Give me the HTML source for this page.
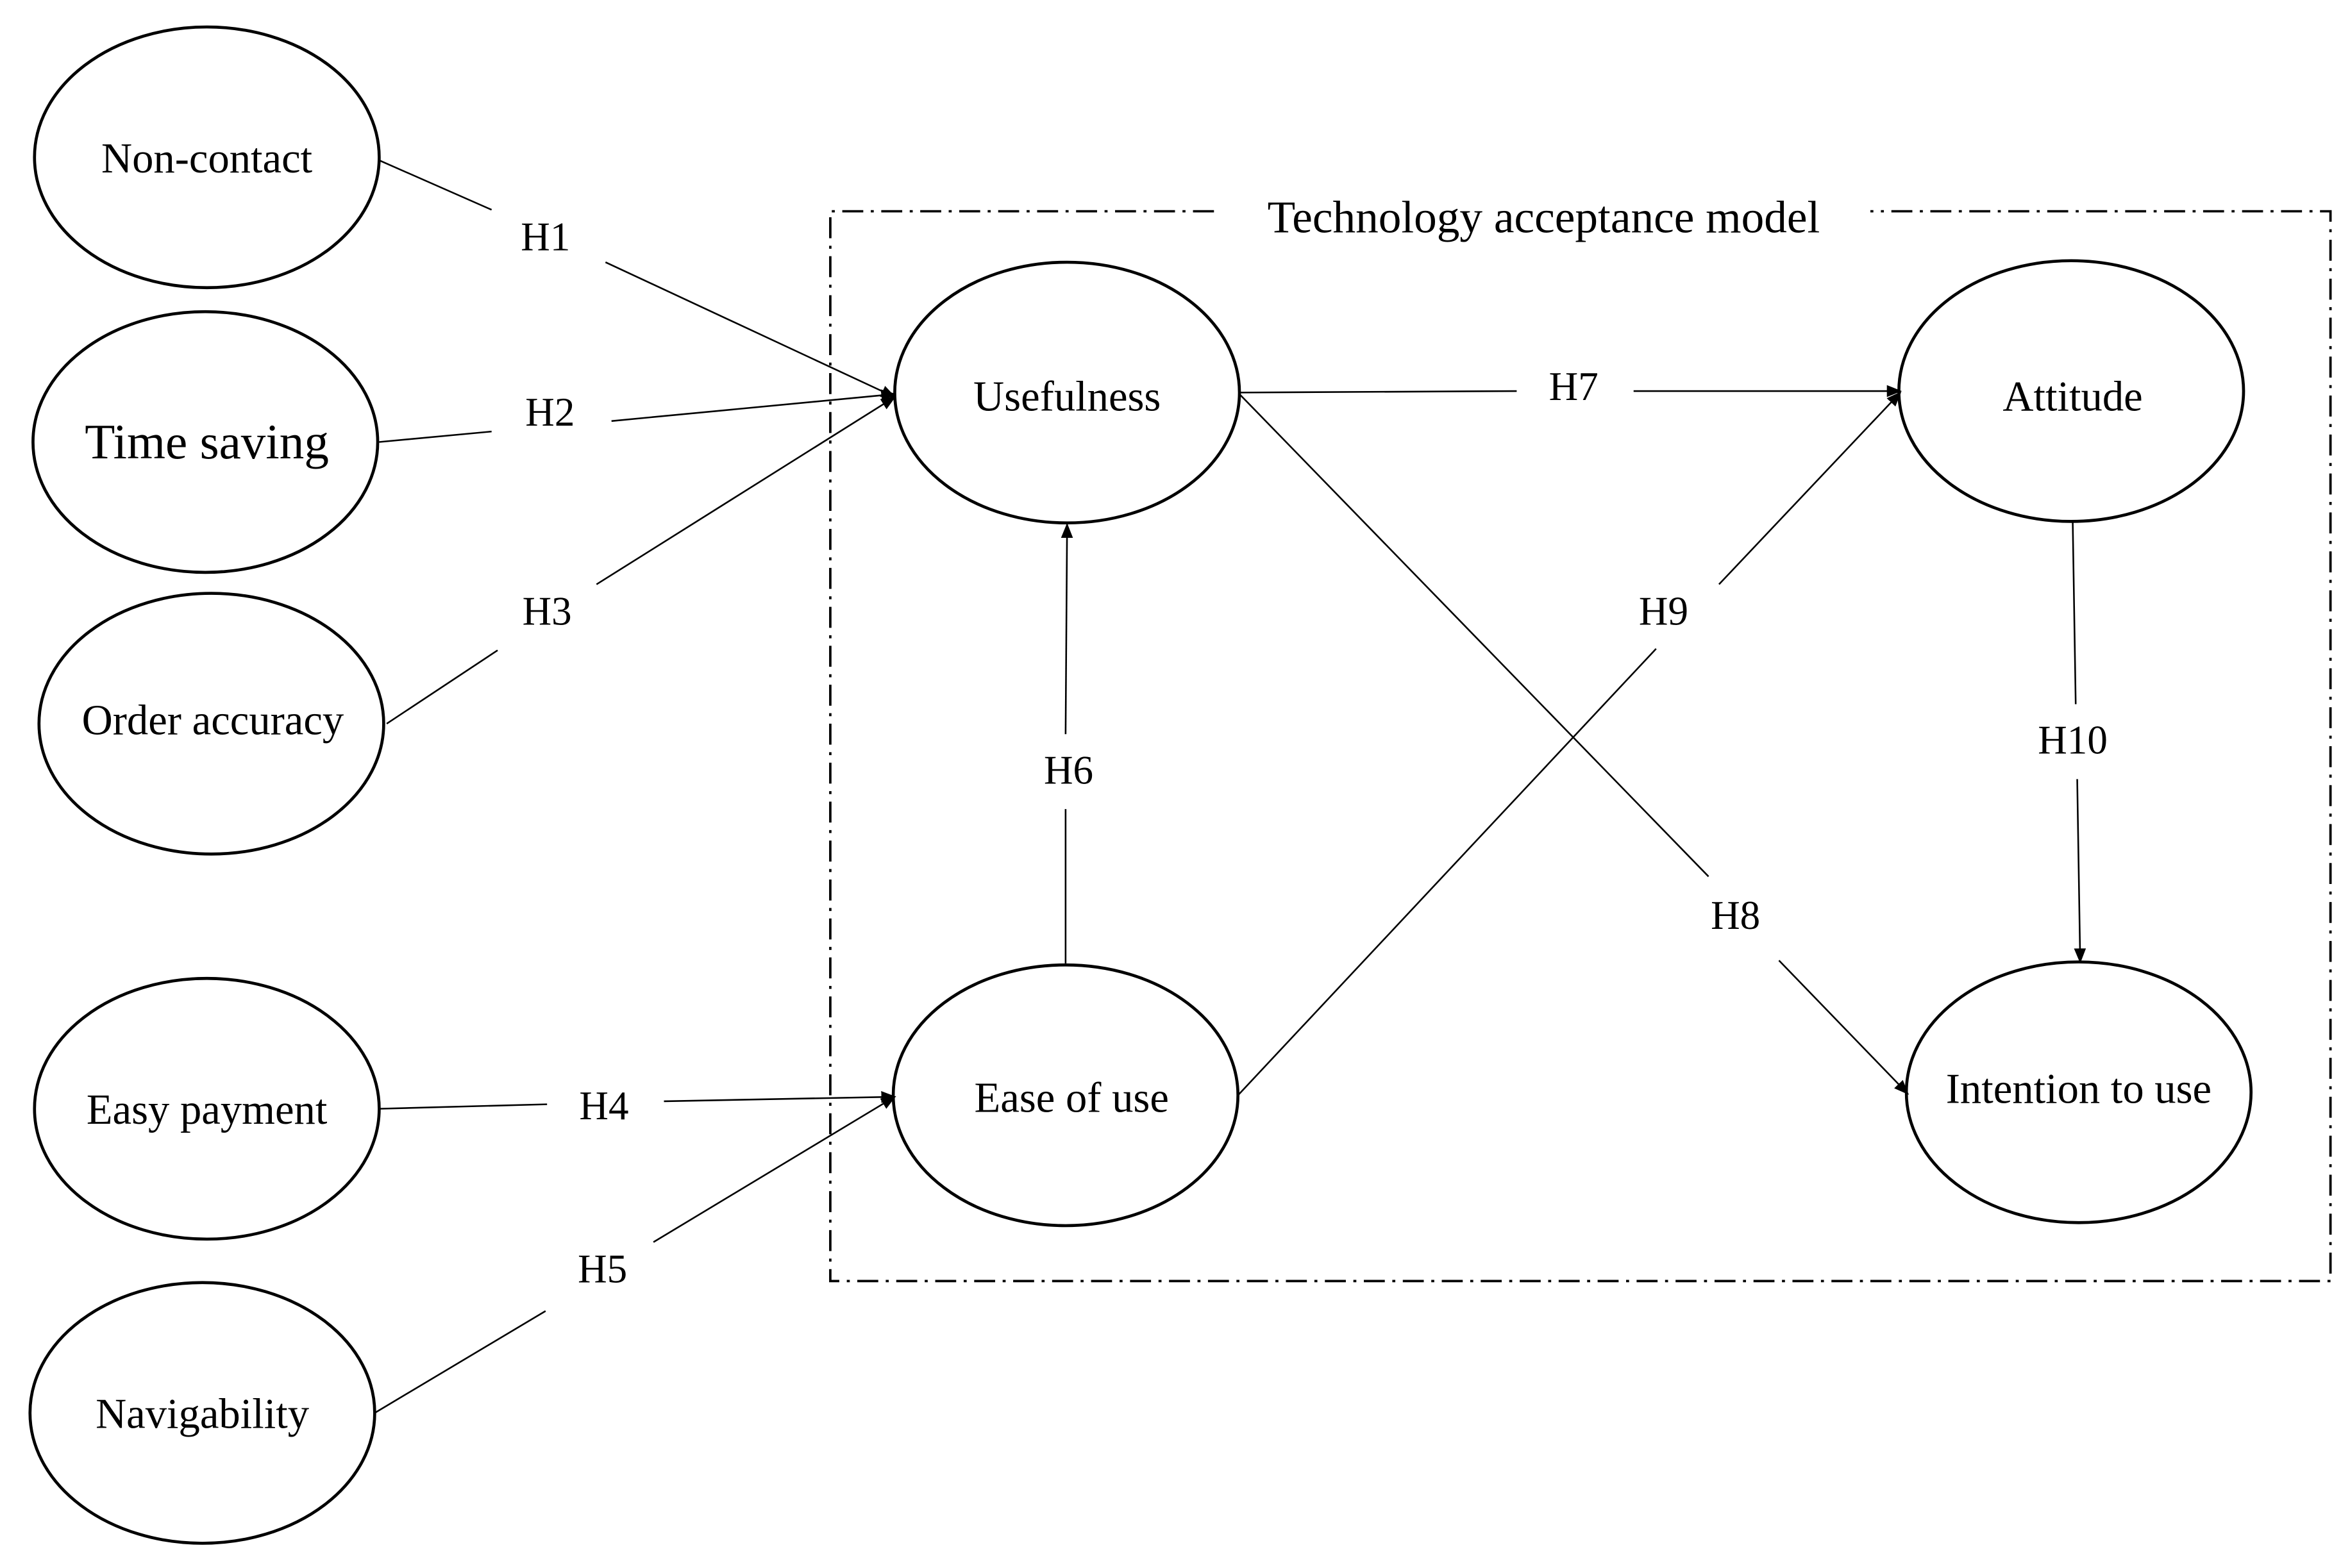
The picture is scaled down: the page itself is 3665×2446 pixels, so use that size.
<!DOCTYPE html>
<html><head><meta charset="utf-8"><style>html,body{margin:0;padding:0;background:#fff;width:3665px;height:2446px;overflow:hidden}</style></head>
<body>
<svg width="3665" height="2446" viewBox="0 0 1568 1046.5" xmlns="http://www.w3.org/2000/svg" font-family="'Liberation Serif', serif" font-size="27" text-anchor="middle">
<defs><marker id="a" markerWidth="10" markerHeight="10" refX="9" refY="5" orient="auto" markerUnits="userSpaceOnUse"><path d="M0,1 L10,5 L0,9 Z" fill="#000"/></marker></defs>
<rect width="1568" height="1047" fill="#fff"/>
<g fill="none" stroke="#000" stroke-width="1.6" stroke-dasharray="14,5,2,5">
<polyline points="810,141 554,141 554,855 1555,855 1555,141 1248,141"/>
</g>
<text x="1030" y="155" font-size="30.5">Technology acceptance model</text>
<g fill="none" stroke="#000" stroke-width="2">
<ellipse cx="138" cy="105" rx="115" ry="87"/>
<ellipse cx="137" cy="295" rx="115" ry="87"/>
<ellipse cx="141" cy="483" rx="115" ry="87"/>
<ellipse cx="138" cy="740" rx="115" ry="87"/>
<ellipse cx="135" cy="943" rx="115" ry="87"/>
<ellipse cx="712" cy="262" rx="115" ry="87"/>
<ellipse cx="711" cy="731" rx="115" ry="87"/>
<ellipse cx="1382" cy="261" rx="115" ry="87"/>
<ellipse cx="1387" cy="729" rx="115" ry="87"/>
</g>
<g stroke="#000" stroke-width="1.1" fill="none">
<line x1="253" y1="107" x2="328" y2="140"/><line x1="404" y1="175" x2="597" y2="265" marker-end="url(#a)"/>
<line x1="253" y1="295" x2="328" y2="288"/><line x1="408" y1="281" x2="597" y2="263" marker-end="url(#a)"/>
<line x1="258" y1="483" x2="332" y2="434"/><line x1="398" y1="390" x2="597" y2="265" marker-end="url(#a)"/>
<line x1="253" y1="740" x2="365" y2="737"/><line x1="443" y1="735" x2="597" y2="732" marker-end="url(#a)"/>
<line x1="250" y1="943" x2="364" y2="875"/><line x1="436" y1="829" x2="597" y2="732" marker-end="url(#a)"/>
<line x1="711" y1="643" x2="711" y2="540"/><line x1="711" y1="490" x2="712" y2="350" marker-end="url(#a)"/>
<line x1="827" y1="262" x2="1012" y2="261"/><line x1="1090" y1="261" x2="1268" y2="261" marker-end="url(#a)"/>
<line x1="827" y1="263" x2="1140" y2="585"/><line x1="1187" y1="641" x2="1273" y2="730" marker-end="url(#a)"/>
<line x1="826" y1="731" x2="1105" y2="433"/><line x1="1147" y1="390" x2="1268" y2="262" marker-end="url(#a)"/>
<line x1="1383" y1="348" x2="1385" y2="470"/><line x1="1386" y1="520" x2="1388" y2="642" marker-end="url(#a)"/>
</g>
<g font-size="28.5">
<text x="138" y="115">Non-contact</text>
<text x="138" y="306" font-size="33">Time saving</text>
<text x="142" y="490">Order accuracy</text>
<text x="138" y="750">Easy payment</text>
<text x="135" y="953">Navigability</text>
<text x="712" y="274">Usefulness</text>
<text x="715" y="742">Ease of use</text>
<text x="1383" y="274">Attitude</text>
<text x="1387" y="736">Intention to use</text>
</g>
<g>
<text x="364" y="167">H1</text>
<text x="367" y="284">H2</text>
<text x="365" y="417">H3</text>
<text x="403" y="747">H4</text>
<text x="402" y="856">H5</text>
<text x="713" y="523">H6</text>
<text x="1050" y="267">H7</text>
<text x="1158" y="620">H8</text>
<text x="1110" y="417">H9</text>
<text x="1383" y="503">H10</text>
</g>
</svg>
</body></html>
